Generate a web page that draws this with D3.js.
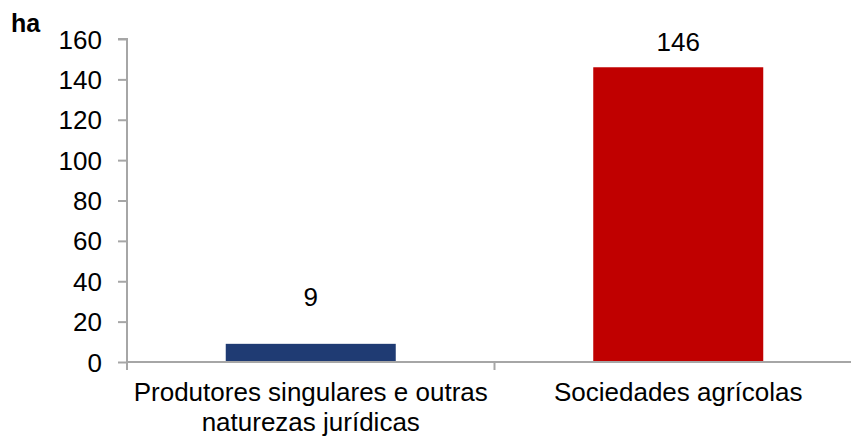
<!DOCTYPE html>
<html>
<head>
<meta charset="utf-8">
<script src="https://cdn.jsdelivr.net/npm/d3@7"></script>
<style>
  html, body { margin: 0; padding: 0; background: #fff; }
  svg { display: block; font-family: "Liberation Sans", Arial, sans-serif; }
</style>
</head>
<body>
<svg id="chart" width="851" height="437"></svg>
<script>
const categories = [["Produtores singulares e outras", "naturezas jurídicas"], ["Sociedades agrícolas"]];
const values = [9, 146];
const colors = ["#1F3B73", "#C00000"];
const yTicks = [0, 20, 40, 60, 80, 100, 120, 140, 160];
const unitLabel = "ha";

(function() {
const svg = d3.select("#chart");
const mLeft = 127, mRight = 862, mTop = 39, mBottom = 362;
const fs = 26;

const x = d3.scaleBand().domain(d3.range(values.length)).range([mLeft, mRight]).paddingInner(0).paddingOuter(0);
const y = d3.scaleLinear().domain([0, 160]).range([mBottom, mTop]);

const axisColor = "#A6A6A6";

// y axis
const yAxis = svg.append("g").attr("transform", `translate(${mLeft},0)`)
  .call(d3.axisLeft(y).tickValues(yTicks).tickSize(9).tickPadding(16).tickFormat(d3.format("d")));
yAxis.select(".domain").attr("stroke", axisColor).attr("stroke-width", 2).attr("d", `M-9,${mTop}H0V${mBottom + 8}`);
yAxis.selectAll(".tick line").attr("stroke", axisColor).attr("stroke-width", 2);
yAxis.selectAll(".tick text").attr("font-size", fs).attr("fill", "#000").attr("dy", "0.35em");

// bars
const barW = 170;
svg.append("g").selectAll("rect").data(values).join("rect")
  .attr("x", (d, i) => x(i) + x.bandwidth() / 2 - barW / 2)
  .attr("width", barW)
  .attr("y", d => y(d))
  .attr("height", d => y(0) - y(d))
  .attr("fill", (d, i) => colors[i]);

// x axis
const xg = svg.append("g");
xg.append("line").attr("x1", mLeft).attr("x2", mRight).attr("y1", mBottom).attr("y2", mBottom)
  .attr("stroke", axisColor).attr("stroke-width", 2);
xg.selectAll("line.tk").data(d3.range(1, values.length)).join("line").attr("class", "tk")
  .attr("x1", i => x(i)).attr("x2", i => x(i)).attr("y1", mBottom).attr("y2", mBottom + 8)
  .attr("stroke", axisColor).attr("stroke-width", 2);

// category labels
const cl = svg.append("g").selectAll("text").data(categories).join("text")
  .attr("x", (d, i) => x(i) + x.bandwidth() / 2)
  .attr("y", 401)
  .attr("text-anchor", "middle")
  .attr("font-size", fs)
  .attr("fill", "#000");
cl.selectAll("tspan").data(d => d).join("tspan")
  .attr("x", function() { return this.parentNode.getAttribute("x"); })
  .attr("dy", (d, j) => j === 0 ? 0 : 30)
  .text(d => d);

// value labels
const labelOffsets = [38, 16];
svg.append("g").selectAll("text").data(values).join("text")
  .attr("x", (d, i) => x(i) + x.bandwidth() / 2)
  .attr("y", (d, i) => y(d) - labelOffsets[i])
  .attr("text-anchor", "middle")
  .attr("font-size", fs)
  .attr("fill", "#000")
  .text(d => d);

// unit label
svg.append("text").attr("x", 11).attr("y", 32).attr("font-size", 25).attr("font-weight", "bold").attr("fill", "#000").text(unitLabel);
})();
</script>
</body>
</html>
